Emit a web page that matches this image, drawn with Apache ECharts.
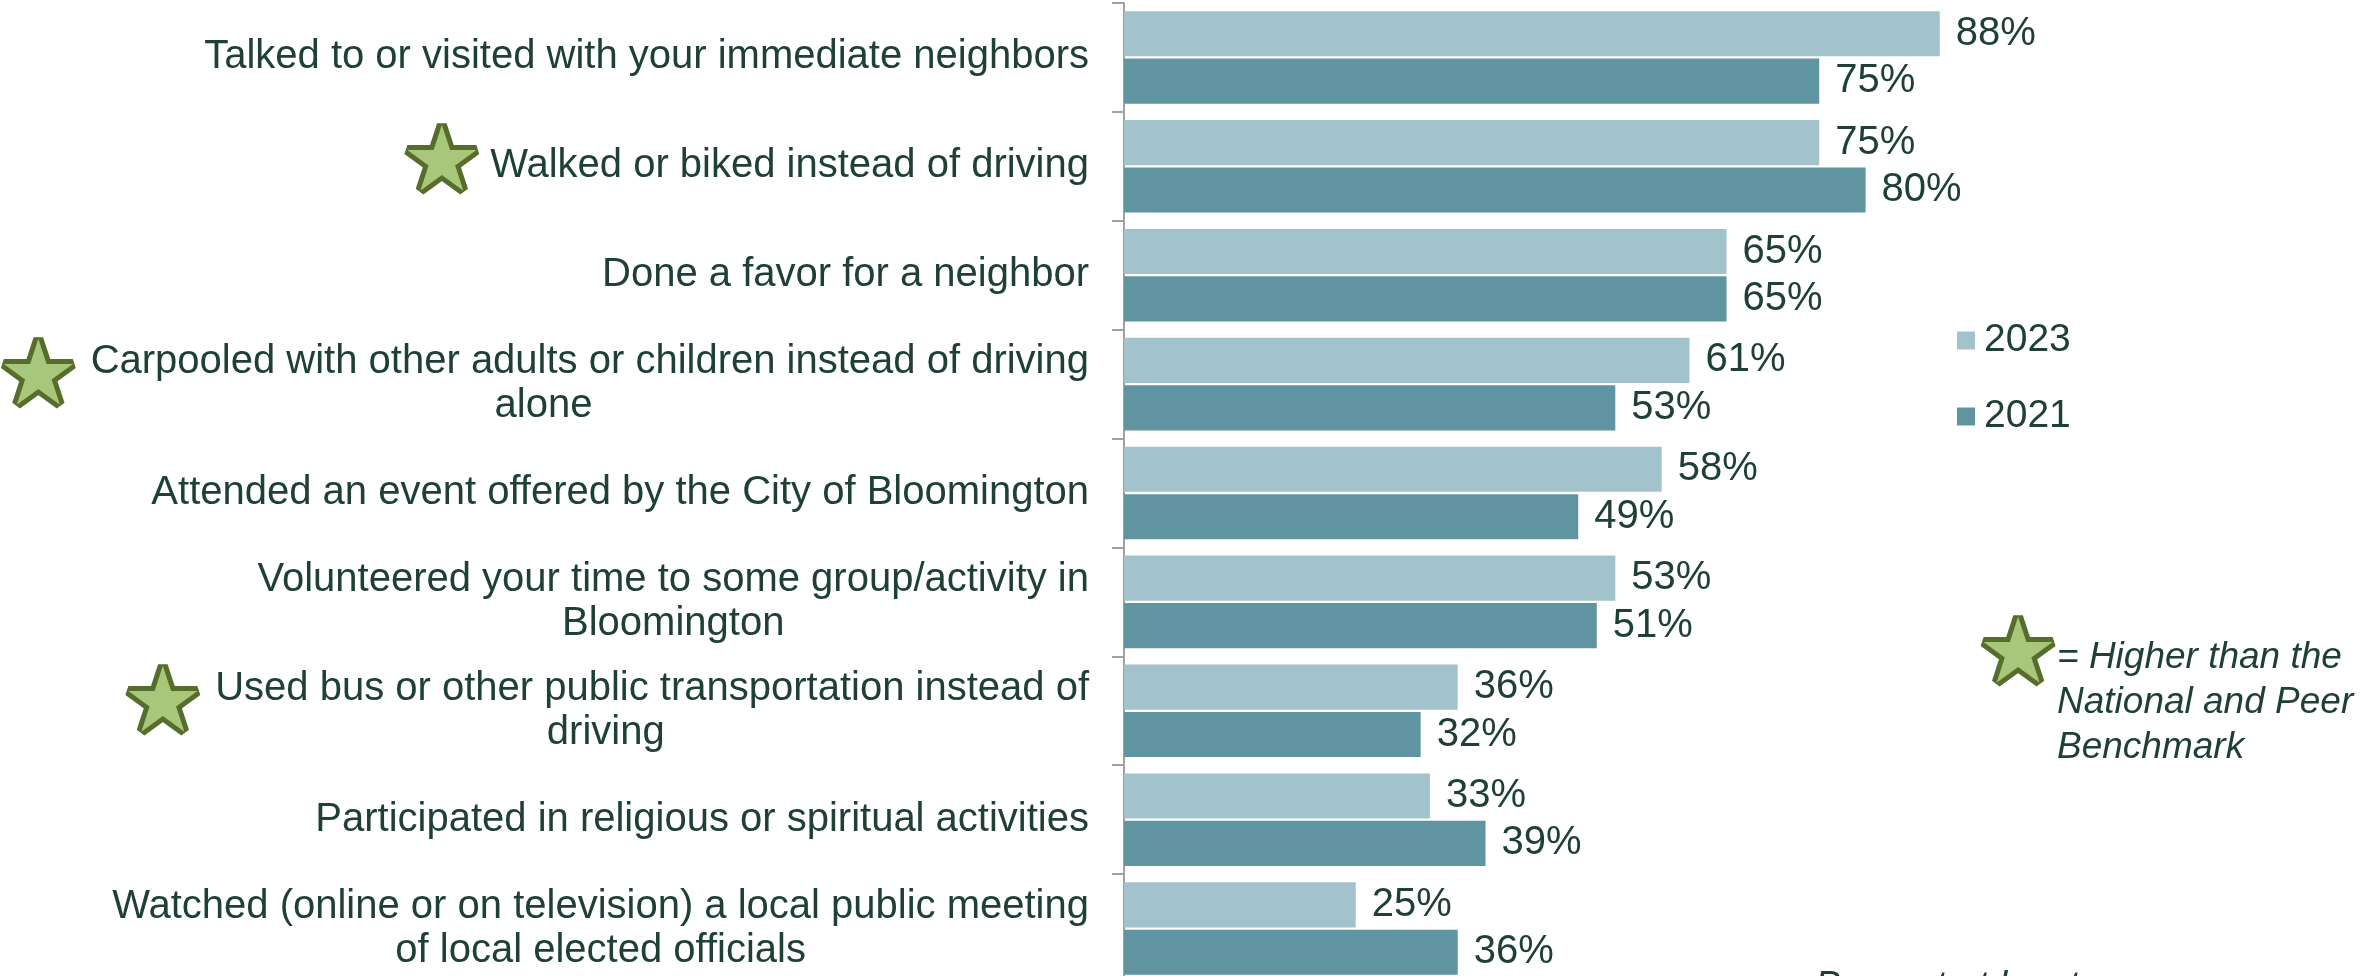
<!DOCTYPE html>
<html>
<head>
<meta charset="utf-8">
<script src="https://cdn.jsdelivr.net/npm/echarts@6/dist/echarts.min.js"></script>
<style>
  html, body { margin: 0; padding: 0; background: #ffffff; }
  #chart { width: 2362px; height: 976px; }
</style>
</head>
<body>
<div id="chart"></div>
<script>
const categories = [
  "Talked to or visited with your immediate neighbors",
  "Walked or biked instead of driving",
  "Done a favor for a neighbor",
  "Carpooled with other adults or children instead of driving\nalone",
  "Attended an event offered by the City of Bloomington",
  "Volunteered your time to some group/activity in\nBloomington",
  "Used bus or other public transportation instead of\ndriving",
  "Participated in religious or spiritual activities",
  "Watched (online or on television) a local public meeting\nof local elected officials"
];
const starred = [false, true, false, true, false, false, true, false, false];
const values2023 = [88, 75, 65, 61, 58, 53, 36, 33, 25];
const values2021 = [75, 80, 65, 53, 49, 51, 32, 39, 36];
const seriesNames = ["2023", "2021"];
const noteLines = ["= Higher than the", "National and Peer", "Benchmark"];
const footText = "Percent at least once";

const TEXT = "#1e4037";
const FONT = "'Liberation Sans', Arial, sans-serif";
const STAR_FILL = "#a9c77a";
const STAR_EDGE = "#566d2c";

const chart = echarts.init(document.getElementById("chart"));

function formatCategory(value) {
  const idx = categories.indexOf(value);
  const lines = value.split("\n");
  const multi = lines.length > 1;
  const starTag = starred[idx] ? (multi ? "{s2|★}" : "{s|★}") : "";
  return lines
    .map((line, i) => (i === 0 ? starTag : "") + "{t|" + line + "}")
    .join("\n");
}

const starStyle = {
  color: STAR_FILL,
  textBorderColor: STAR_EDGE,
  textBorderWidth: 10,
  fontSize: 90,
  fontFamily: "'DejaVu Sans'",
  lineHeight: 44
};

const barLabel = {
  show: true,
  position: "right",
  distance: 16,
  formatter: "{c}%",
  color: TEXT,
  fontSize: 40,
  fontFamily: FONT
};

chart.setOption({
  animation: false,
  backgroundColor: "#ffffff",
  grid: {
    left: 1124,
    right: 311,
    top: 3,
    height: 980,
    containLabel: false,
    outerBoundsMode: "none"
  },
  legend: {
    orient: "vertical",
    left: 1952,
    top: 316,
    itemWidth: 18,
    itemHeight: 18,
    itemGap: 37,
    icon: "rect",
    data: seriesNames,
    textStyle: {
      color: TEXT,
      fontSize: 39,
      fontFamily: FONT,
      padding: [0, 0, 0, 4]
    }
  },
  xAxis: {
    type: "value",
    min: 0,
    max: 100,
    show: false
  },
  yAxis: {
    type: "category",
    inverse: true,
    data: categories,
    axisLine: { lineStyle: { color: "#a0a0a0", width: 2 } },
    axisTick: { show: true, length: 12, lineStyle: { color: "#a0a0a0", width: 2 } },
    axisLabel: {
      margin: 35,
      align: "right",
      formatter: formatCategory,
      rich: {
        t: {
          color: TEXT,
          fontSize: 40,
          fontFamily: FONT,
          lineHeight: 44,
          align: "center"
        },
        s: Object.assign({}, starStyle, { padding: [0, 8, 0, 0] }),
        s2: Object.assign({}, starStyle, { padding: [38, 12, 0, 0] })
      }
    }
  },
  series: [
    {
      name: seriesNames[0],
      type: "bar",
      data: values2023,
      barGap: "5%",
      barCategoryGap: "15%",
      itemStyle: { color: "#a2c3cb" },
      label: barLabel
    },
    {
      name: seriesNames[1],
      type: "bar",
      data: values2021,
      itemStyle: { color: "#6094a0" },
      label: barLabel
    }
  ],
  graphic: [
    {
      type: "text",
      x: 2018,
      y: 659,
      style: {
        text: "★",
        fill: STAR_FILL,
        stroke: STAR_EDGE,
        lineWidth: 10,
        font: "90px 'DejaVu Sans'",
        align: "center",
        verticalAlign: "middle"
      }
    },
    {
      type: "text",
      x: 2057,
      y: 635,
      style: {
        text: noteLines.join("\n"),
        fill: TEXT,
        font: "italic 37px " + FONT,
        lineHeight: 45,
        align: "left",
        verticalAlign: "top"
      }
    },
    {
      type: "text",
      x: 1815,
      y: 968,
      style: {
        text: footText,
        fill: TEXT,
        font: "italic 38px " + FONT,
        align: "left",
        verticalAlign: "top"
      }
    }
  ]
});

window.addEventListener("resize", () => chart.resize());
</script>
</body>
</html>
